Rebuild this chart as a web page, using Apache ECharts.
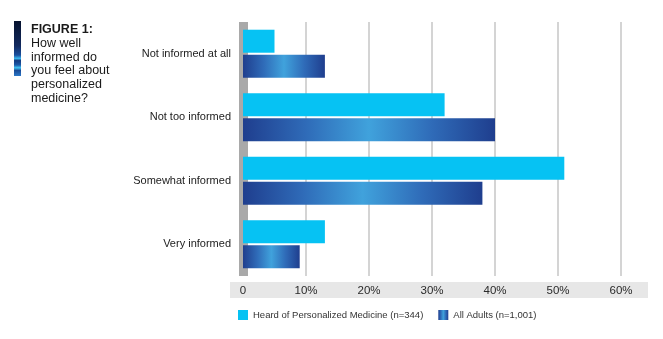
<!DOCTYPE html>
<html>
<head>
<meta charset="utf-8">
<style>
  html, body { margin: 0; padding: 0; background: #ffffff; }
  #chart { width: 663px; height: 339px; }
</style>
<script src="https://cdn.jsdelivr.net/npm/echarts@6/dist/echarts.min.js"></script>
</head>
<body>
<div id="chart"></div>
<script>
const categories = ["Not informed at all", "Not too informed", "Somewhat informed", "Very informed"];
const heardValues = [5, 32, 51, 13];
const allAdultsValues = [13, 40, 38, 9];
const xTicks = [0, 10, 20, 30, 40, 50, 60];
const seriesNames = ["Heard of Personalized Medicine (n=344)", "All Adults (n=1,001)"];
const titleLines = ["How well", "informed do", "you feel about", "personalized", "medicine?"];

const chart = echarts.init(document.getElementById('chart'), null, { renderer: 'canvas' });
const font = '"Liberation Sans", Arial, Helvetica, sans-serif';

const darkGradient = new echarts.graphic.LinearGradient(0, 0, 1, 0, [
  { offset: 0, color: '#1f3e8e' },
  { offset: 0.25, color: '#2f6bb8' },
  { offset: 0.5, color: '#40a2dc' },
  { offset: 0.75, color: '#2f6bb8' },
  { offset: 1, color: '#1f3e8e' }
]);

const option = {
  backgroundColor: '#ffffff',
  animation: false,
  textStyle: { fontFamily: font },
  grid: { left: 243, right: 42, top: 22, bottom: 63, containLabel: false },
  legend: {
    data: seriesNames,
    left: 238,
    top: 310,
    padding: 0,
    itemWidth: 10,
    itemHeight: 10,
    itemGap: 15,
    icon: 'rect',
    textStyle: { fontSize: 9.5, color: '#333', fontFamily: font }
  },
  xAxis: {
    type: 'value',
    min: 0,
    max: 60,
    interval: 10,
    axisLine: { show: false },
    axisTick: { show: false },
    splitLine: { show: true, lineStyle: { color: '#c6c6c6', width: 1.5 } },
    axisLabel: {
      margin: 9,
      fontSize: 11.5,
      color: '#2a2a2a',
      fontFamily: font,
      formatter: function (v) { return xTicks.indexOf(v) >= 0 ? (v === 0 ? '0' : v + '%') : ''; }
    }
  },
  yAxis: {
    type: 'category',
    data: categories,
    inverse: true,
    axisLine: { show: true, lineStyle: { color: '#a9a9a9', width: 9, cap: 'butt' } },
    axisTick: { show: false },
    axisLabel: { margin: 12, fontSize: 11, color: '#222', fontFamily: font }
  },
  graphic: [
    {
      type: 'rect', z: -10, silent: true,
      shape: { x: 230, y: 282, width: 418, height: 16 },
      style: { fill: '#e7e7e7' }
    },
    {
      type: 'rect', silent: true,
      shape: { x: 14, y: 21, width: 7, height: 55 },
      style: {
        fill: new echarts.graphic.LinearGradient(0, 0, 0, 1, [
          { offset: 0, color: '#06122e' },
          { offset: 0.45, color: '#12295e' },
          { offset: 0.62, color: '#1a4f9e' },
          { offset: 0.68, color: '#39b6ee' },
          { offset: 0.72, color: '#133a80' },
          { offset: 0.8, color: '#1c5aa8' },
          { offset: 0.85, color: '#41c4f2' },
          { offset: 0.9, color: '#1a4c98' },
          { offset: 1, color: '#2c78c8' }
        ])
      }
    },
    {
      type: 'text', left: 31, top: 23, silent: true,
      style: { text: 'FIGURE 1:', font: 'bold 12.5px ' + font, fill: '#1a1a1a' }
    },
    {
      type: 'text', left: 31, top: 37, silent: true,
      style: { text: titleLines.join('\n'), font: '12.5px ' + font, fill: '#1a1a1a', lineHeight: 13.6 }
    }
  ],
  series: [
    {
      name: seriesNames[0],
      type: 'bar',
      data: heardValues,
      barWidth: 23,
      barGap: '9%',
      itemStyle: { color: '#06c2f3' },
      z: 3
    },
    {
      name: seriesNames[1],
      type: 'bar',
      data: allAdultsValues,
      barWidth: 23,
      barGap: '9%',
      itemStyle: { color: darkGradient },
      z: 3
    }
  ]
};
chart.setOption(option);
</script>
</body>
</html>
